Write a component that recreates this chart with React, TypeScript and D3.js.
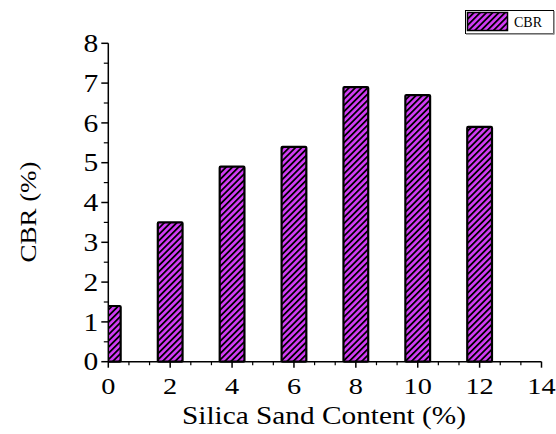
import React from "react";
import * as d3 from "d3";

const categories = [0, 2, 4, 6, 8, 10, 12];
const cbrValues = [1.4, 3.5, 4.9, 5.4, 6.9, 6.7, 5.9];
const xTicks = [0, 2, 4, 6, 8, 10, 12, 14];
const yTicks = [0, 1, 2, 3, 4, 5, 6, 7, 8];
const seriesName = "CBR";
const xTitle = "Silica Sand Content (%)";
const yTitle = "CBR (%)";

const W = 556;
const H = 434;
const left = 108.3;
const right = 541.5;
const top = 43.3;
const bottom = 361.7;
const fill = "#d23cf5";
const font = '"Liberation Serif", "Times New Roman", "DejaVu Serif", serif';
const stretch = 1.18;

export default function App() {
  const x = d3.scaleLinear().domain([0, 14]).range([left, right]);
  const y = d3.scaleLinear().domain([0, 8]).range([bottom, top]);
  const barW = x(0.8) - x(0);
  const xMinor = d3.range(0, 14.001, 2 / 3).filter((v) => Math.abs(v / 2 - Math.round(v / 2)) > 1e-6);
  const yMinor = d3.range(0.5, 8, 1);
  const ts = { fontFamily: font } as React.CSSProperties;

  return (
    <svg width={W} height={H} style={{ position: "absolute", left: 0, top: 0, background: "#fff" }}>
      <defs>
        <pattern id="hatch" patternUnits="userSpaceOnUse" width={4.4} height={4.4} patternTransform="rotate(45)">
          <rect width={4.4} height={4.4} fill={fill} />
          <rect x={0} y={0} width={1.8} height={4.4} fill="#000" />
        </pattern>
        <clipPath id="plot">
          <rect x={left} y={0} width={right - left} height={bottom + 2} />
        </clipPath>
      </defs>

      <g clipPath="url(#plot)">
        {categories.map((c, i) => (
          <rect
            key={c}
            x={x(c) - barW / 2}
            y={y(cbrValues[i])}
            width={barW}
            height={y(0) - y(cbrValues[i])}
            fill="url(#hatch)"
            stroke="#000"
            strokeWidth={2.2}
            rx={1}
          />
        ))}
      </g>

      <line x1={left} x2={right} y1={bottom} y2={bottom} stroke="#000" strokeWidth={1.5} />
      <line x1={left} x2={left} y1={top} y2={bottom} stroke="#000" strokeWidth={1.5} />

      {xTicks.map((t) => (
        <g key={"xt" + t}>
          <line x1={x(t)} x2={x(t)} y1={bottom} y2={bottom + 6} stroke="#000" strokeWidth={1.5} />
          <text
            transform={`translate(${x(t)}, ${bottom + 32}) scale(${stretch},1)`}
            textAnchor="middle"
            style={ts}
            fontSize={24}
            fill="#000"
          >
            {t}
          </text>
        </g>
      ))}
      {xMinor.map((t, i) => (
        <line key={"xm" + i} x1={x(t)} x2={x(t)} y1={bottom} y2={bottom + 3.5} stroke="#000" strokeWidth={1.2} />
      ))}

      {yTicks.map((t) => (
        <g key={"yt" + t}>
          <line x1={left - 7} x2={left} y1={y(t)} y2={y(t)} stroke="#000" strokeWidth={1.5} />
          <text
            transform={`translate(${left - 10}, ${y(t)}) scale(${stretch},1)`}
            dy="0.35em"
            textAnchor="end"
            style={ts}
            fontSize={25}
            fill="#000"
          >
            {t}
          </text>
        </g>
      ))}
      {yMinor.map((t) => (
        <line key={"ym" + t} x1={left - 4.5} x2={left} y1={y(t)} y2={y(t)} stroke="#000" strokeWidth={1.2} />
      ))}

      <text
        x={324}
        y={424}
        textAnchor="middle"
        style={ts}
        fontSize={25}
        fill="#000"
        textLength={284}
        lengthAdjust="spacingAndGlyphs"
      >
        {xTitle}
      </text>
      <text
        transform={`translate(36, 212) rotate(-90)`}
        textAnchor="middle"
        style={ts}
        fontSize={24}
        fill="#000"
        textLength={101}
        lengthAdjust="spacingAndGlyphs"
      >
        {yTitle}
      </text>

      <rect x={465.5} y={10.5} width={88} height={23} fill="#fff" stroke="#000" strokeWidth={1} />
      <line x1={466} x2={554} y1={34} y2={34} stroke="#888" strokeWidth={1.5} />
      <line x1={554} x2={554} y1={11} y2={34.5} stroke="#888" strokeWidth={1.5} />
      <rect x={467.5} y={12.5} width={40} height={18} fill="url(#hatch)" stroke="#000" strokeWidth={1.5} />
      <text x={514} y={26.5} style={ts} fontSize={14} fill="#000">
        {seriesName}
      </text>
    </svg>
  );
}
